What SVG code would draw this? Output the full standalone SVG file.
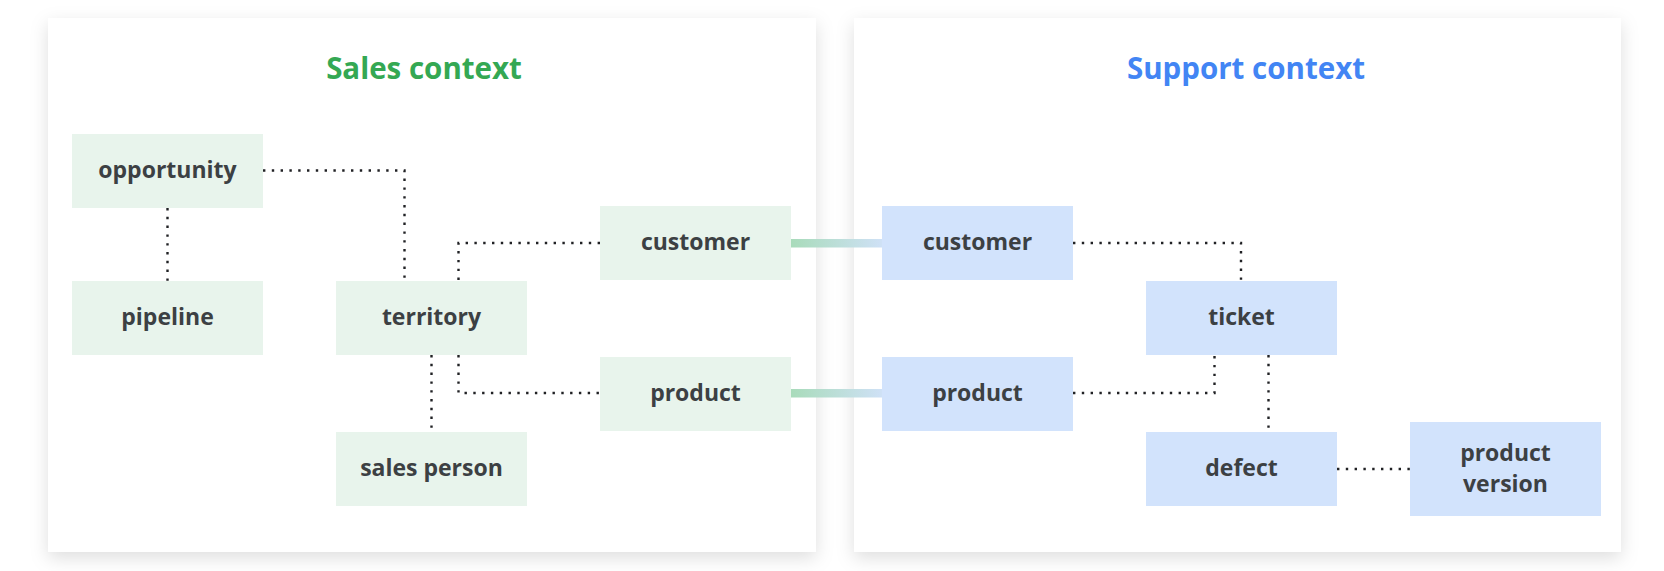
<svg xmlns="http://www.w3.org/2000/svg" width="1664" height="571" viewBox="0 0 1664 571">
  <defs>
    <filter id="shadow" x="-10%" y="-10%" width="120%" height="125%">
      <feDropShadow dx="0" dy="6" stdDeviation="9" flood-color="#000" flood-opacity="0.13"/>
    </filter>
    <linearGradient id="band" x1="0" y1="0" x2="1" y2="0">
      <stop offset="0" stop-color="#a8dbba"/>
      <stop offset="1" stop-color="#cfe1f6"/>
    </linearGradient>
    <style>
      .panel { fill: #ffffff; filter: url(#shadow); }
      .green { fill: #e8f4ec; }
      .blue { fill: #d2e3fc; }
      .label { font-family: "Open Sans", "Liberation Sans", sans-serif; font-weight: 700; font-size: 23px; fill: #3c4043; text-anchor: middle; }
      .title { font-family: "Open Sans", "Liberation Sans", sans-serif; font-weight: 700; font-size: 29.5px; text-anchor: middle; }
      .dot { fill: none; stroke: #202124; stroke-width: 2.4; stroke-dasharray: 2.4 6.4; }
    </style>
  </defs>

  <g id="sales-context">
    <rect class="panel" x="48" y="18" width="768" height="534"/>
    <text class="title" x="424" y="79" fill="#34a853">Sales context</text>
  </g>
  <g id="support-context">
    <rect class="panel" x="854" y="18" width="767" height="534"/>
    <text class="title" x="1246" y="79" fill="#4285f4">Support context</text>
  </g>

  <g id="connectors">
    <path class="dot" d="M263 170.5 H404.5 V281"/>
    <path class="dot" d="M167.5 208 V281"/>
    <path class="dot" d="M600 243 H458.5 V281"/>
    <path class="dot" d="M458.5 355 V393 H600"/>
    <path class="dot" d="M431.5 355 V432"/>
    <path class="dot" d="M1073 243 H1241 V281"/>
    <path class="dot" d="M1073 393 H1214.5 V355"/>
    <path class="dot" d="M1268.5 355 V432"/>
    <path class="dot" d="M1337 469 H1410"/>
    <rect x="791" y="239" width="91" height="8.5" fill="url(#band)"/>
    <rect x="791" y="389" width="91" height="8.5" fill="url(#band)"/>
  </g>

  <g id="opportunity">
    <rect class="green" x="72" y="134" width="191" height="74"/>
    <text class="label" x="167.5" y="177.5">opportunity</text>
  </g>
  <g id="pipeline">
    <rect class="green" x="72" y="281" width="191" height="74"/>
    <text class="label" x="167.5" y="324.5">pipeline</text>
  </g>
  <g id="territory">
    <rect class="green" x="336" y="281" width="191" height="74"/>
    <text class="label" x="431.5" y="324.5">territory</text>
  </g>
  <g id="sales-person">
    <rect class="green" x="336" y="432" width="191" height="74"/>
    <text class="label" x="431.5" y="475.5">sales person</text>
  </g>
  <g id="sales-customer">
    <rect class="green" x="600" y="206" width="191" height="74"/>
    <text class="label" x="695.5" y="249.5">customer</text>
  </g>
  <g id="sales-product">
    <rect class="green" x="600" y="357" width="191" height="74"/>
    <text class="label" x="695.5" y="400.5">product</text>
  </g>

  <g id="support-customer">
    <rect class="blue" x="882" y="206" width="191" height="74"/>
    <text class="label" x="977.5" y="249.5">customer</text>
  </g>
  <g id="support-product">
    <rect class="blue" x="882" y="357" width="191" height="74"/>
    <text class="label" x="977.5" y="400.5">product</text>
  </g>
  <g id="ticket">
    <rect class="blue" x="1146" y="281" width="191" height="74"/>
    <text class="label" x="1241.5" y="324.5">ticket</text>
  </g>
  <g id="defect">
    <rect class="blue" x="1146" y="432" width="191" height="74"/>
    <text class="label" x="1241.5" y="475.5">defect</text>
  </g>
  <g id="product-version">
    <rect class="blue" x="1410" y="422" width="191" height="94"/>
    <text class="label" x="1505.5" y="461">product</text>
    <text class="label" x="1505.5" y="492">version</text>
  </g>
</svg>
